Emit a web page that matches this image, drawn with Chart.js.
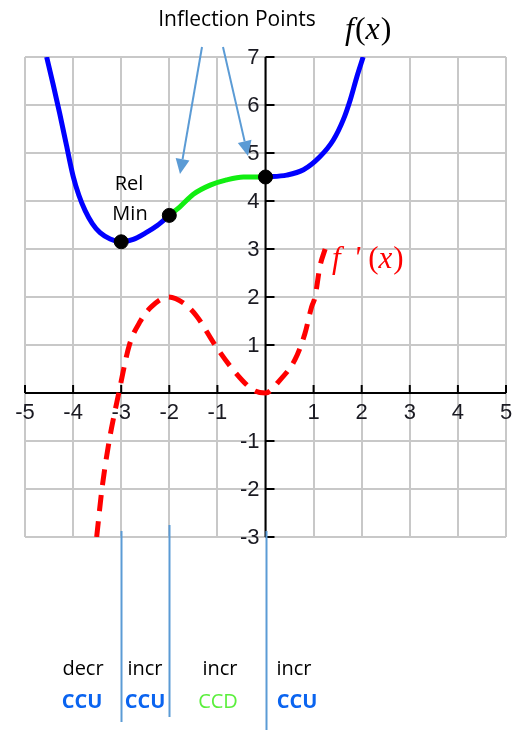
<!DOCTYPE html>
<html>
<head>
<meta charset="utf-8">
<script src="https://cdn.jsdelivr.net/npm/chart.js@4/dist/chart.umd.min.js"></script>
<style>
  html, body { margin: 0; background: #fff; }
  #wrap { width: 520px; height: 730px; position: relative; }
</style>
</head>
<body>
<div id="wrap"><canvas id="graph"></canvas></div>
<script>
// f(x): decreasing/increasing pieces, concave down part in green
const fLeftX  = [-4.55, -4.42, -4.28, -4.14, -4.0, -3.88, -3.75, -3.6, -3.44, -3.23, -3.0, -2.75, -2.5, -2.25, -2.0];
const fLeftY  = [7.0, 6.45, 5.83, 5.17, 4.52, 4.12, 3.8, 3.53, 3.34, 3.21, 3.15, 3.2, 3.33, 3.49, 3.7];
const fMidX   = [-2.0, -1.78, -1.5, -1.15, -0.81, -0.46, 0];
const fMidY   = [3.7, 3.88, 4.14, 4.33, 4.44, 4.5, 4.5];
const fRightX = [0, 0.44, 0.79, 1.13, 1.41, 1.62, 1.76, 1.9, 2.03];
const fRightY = [4.5, 4.54, 4.65, 4.92, 5.27, 5.7, 6.1, 6.59, 7.0];

// f'(x)
const dX = [-3.51, -3.4, -3.25, -3.05, -2.83, -2.6, -2.37, -2.02, -1.7, -1.43, -1.05, -0.67, -0.25, 0, 0.3, 0.61, 0.82, 0.96, 1.03, 1.13, 1.24];
const dY = [-3.0, -2.0, -1.0, 0, 1.0, 1.5, 1.8, 2.0, 1.87, 1.6, 1.0, 0.48, 0.06, 0, 0.27, 0.69, 1.24, 1.8, 2.0, 2.63, 3.0];

// rel min and the two inflection points
const keyX = [-3, -2, 0];
const keyY = [3.15, 3.7, 4.5];

const xTicks = [-5, -4, -3, -2, -1, 1, 2, 3, 4, 5];
const yTicks = [-3, -2, -1, 1, 2, 3, 4, 5, 6, 7];

// interval summary under the graph
const intervalRise = ['decr', 'incr', 'incr', 'incr'];
const intervalConc = ['CCU', 'CCU', 'CCD', 'CCU'];

const BLUE = '#0000ff';
const GREEN = '#11ee11';
const NOTE = '#5b9bd5';
const SANS = '"Open Sans", "Noto Sans", sans-serif';
const SERIF = '"Liberation Serif", "Times New Roman", serif';

function pts(xs, ys) {
  return xs.map((x, i) => ({ x: x, y: ys[i] }));
}

function curve(xs, ys, color, extra) {
  return Object.assign({
    data: pts(xs, ys),
    showLine: true,
    borderColor: color,
    borderWidth: 5,
    pointRadius: 0,
    cubicInterpolationMode: 'monotone',
    order: 2
  }, extra || {});
}

function arrow(ctx, x1, y1, x2, y2) {
  const a = Math.atan2(y2 - y1, x2 - x1);
  const len = 15, half = 7;
  const bx = x2 - len * Math.cos(a), by = y2 - len * Math.sin(a);
  ctx.beginPath();
  ctx.moveTo(x1, y1);
  ctx.lineTo(bx, by);
  ctx.stroke();
  ctx.beginPath();
  ctx.moveTo(x2, y2);
  ctx.lineTo(bx + half * Math.sin(a), by - half * Math.cos(a));
  ctx.lineTo(bx - half * Math.sin(a), by + half * Math.cos(a));
  ctx.closePath();
  ctx.fill();
}

// writes a math label piece by piece: [text, italic, gap after]
function mathLabel(ctx, parts, x, y, size) {
  parts.forEach(p => {
    ctx.font = (p[1] ? 'italic ' : '') + size + 'px ' + SERIF;
    ctx.fillText(p[0], x, y);
    x += ctx.measureText(p[0]).width + p[2];
  });
}

// axes through the origin with their numbers
const axesPlugin = {
  id: 'axesThroughOrigin',
  beforeDatasetsDraw(chart) {
    const ctx = chart.ctx;
    const xs = chart.scales.x, ys = chart.scales.y;
    const x0 = xs.getPixelForValue(0), y0 = ys.getPixelForValue(0);
    ctx.save();
    ctx.strokeStyle = '#000';
    ctx.lineWidth = 2;
    ctx.beginPath();
    ctx.moveTo(xs.left, y0); ctx.lineTo(xs.right, y0);
    ctx.moveTo(x0, ys.top); ctx.lineTo(x0, ys.bottom);
    ctx.stroke();

    ctx.font = '22px "Liberation Sans", Arial, sans-serif';
    ctx.fillStyle = '#1a1a22';
    ctx.textAlign = 'center';
    ctx.textBaseline = 'middle';
    ctx.beginPath();
    xTicks.forEach(v => {
      const px = xs.getPixelForValue(v);
      ctx.moveTo(px, y0); ctx.lineTo(px, y0 - 8);
      ctx.fillText(String(v), px, y0 + 20);
    });
    ctx.textAlign = 'right';
    yTicks.forEach(v => {
      const py = ys.getPixelForValue(v);
      ctx.moveTo(x0, py); ctx.lineTo(x0 + 9, py);
      ctx.fillText(String(v), x0 - 6, py + 1);
    });
    ctx.stroke();
    ctx.restore();
  },
  afterDraw(chart) {
    const ctx = chart.ctx;
    const xs = chart.scales.x;
    ctx.save();

    // labels
    ctx.fillStyle = '#000';
    ctx.textBaseline = 'alphabetic';
    ctx.textAlign = 'center';
    ctx.font = '21px ' + SANS;
    ctx.fillText('Inflection Points', 237, 26);
    ctx.font = '20px ' + SANS;
    ctx.fillText('Rel', 129, 190);
    ctx.fillText('Min', 130, 220);

    ctx.textAlign = 'left';
    mathLabel(ctx, [['f', true, 1], ['(', false, 0], ['x', true, 1], [')', false, 0]], 345, 39, 32);
    ctx.fillStyle = '#ff0000';
    mathLabel(ctx, [['f', true, 13], ['\'', true, 8], ['(', false, 0], ['x', true, 1], [')', false, 0]], 332, 268, 31);

    // arrows to the inflection points
    ctx.strokeStyle = NOTE;
    ctx.fillStyle = NOTE;
    ctx.lineWidth = 2;
    arrow(ctx, 202, 47, 180, 174);
    arrow(ctx, 223, 47, 248, 156);

    // dividers at x = -3, -2, 0
    const divTop = [531, 525, 531];
    const divBottom = [722, 717, 730];
    keyX.forEach((v, i) => {
      const px = Math.round(xs.getPixelForValue(v)) + 0.5;
      ctx.beginPath();
      ctx.moveTo(px, divTop[i]);
      ctx.lineTo(px, divBottom[i]);
      ctx.stroke();
    });

    // interval summary
    const riseX = [83, 145, 220, 294];
    const concX = [82, 145, 218, 297];
    ctx.textAlign = 'center';
    ctx.font = '20px ' + SANS;
    ctx.fillStyle = '#000';
    intervalRise.forEach((t, i) => ctx.fillText(t, riseX[i], 675));
    intervalConc.forEach((t, i) => {
      const down = t === 'CCD';
      ctx.font = (down ? '' : 'bold ') + '20px ' + SANS;
      ctx.fillStyle = down ? '#5aef3c' : '#0a64f0';
      ctx.fillText(t, concX[i], 708);
    });
    ctx.restore();
  }
};

const gridOpts = { color: '#c8c8c8', lineWidth: 2, drawTicks: false };

new Chart(document.getElementById('graph'), {
  type: 'scatter',
  data: {
    datasets: [
      curve(fLeftX, fLeftY, BLUE),
      curve(fMidX, fMidY, GREEN),
      curve(fRightX, fRightY, BLUE),
      curve(dX, dY, '#ff0000', { borderDash: [16, 10], borderCapStyle: 'butt' }),
      {
        data: pts(keyX, keyY),
        showLine: false,
        pointRadius: 7,
        pointBackgroundColor: '#000',
        pointBorderColor: '#000',
        order: 0
      }
    ]
  },
  options: {
    responsive: true,
    maintainAspectRatio: false,
    animation: false,
    layout: { padding: { left: 25, right: 14, top: 57, bottom: 193 } },
    plugins: { legend: { display: false }, tooltip: { enabled: false } },
    scales: {
      x: {
        type: 'linear', min: -5, max: 5,
        ticks: { stepSize: 1, display: false },
        grid: gridOpts,
        border: { display: false },
        afterFit: s => { s.height = 0; }
      },
      y: {
        type: 'linear', min: -3, max: 7,
        ticks: { stepSize: 1, display: false },
        grid: gridOpts,
        border: { display: false },
        afterFit: s => { s.width = 0; }
      }
    }
  },
  plugins: [axesPlugin]
});
</script>
</body>
</html>
